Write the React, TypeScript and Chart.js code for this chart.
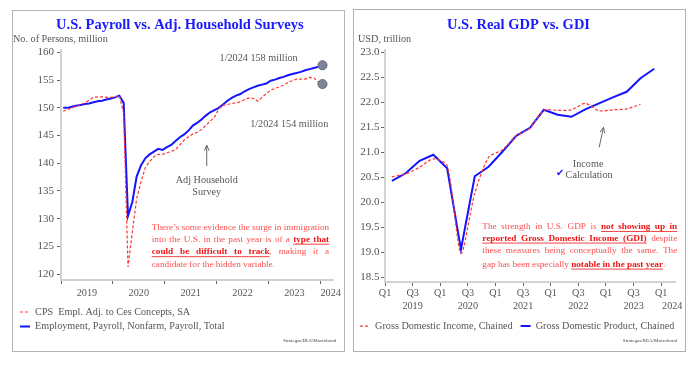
import React, { useEffect, useRef } from 'react';
import { Chart, registerables } from 'chart.js';

Chart.register(...registerables);

const SERIF = '"Liberation Serif", "Times New Roman", Times, serif';
const BLUE = '#1414ff';
const TITLE_BLUE = '#1a1aff';
const RED = '#ff3434';
const RED_TEXT = '#ff4f4f';
const RED_BOLD = '#f01414';
const GRAY_TEXT = '#555555';
const AXIS_LINE = '#d2d2d2';
const TICK_MARK = '#666666';
const DOT_FILL = '#7f8496';
const DOT_EDGE = '#626778';

// ---------- Left chart: monthly, Jan 2019 – Jan 2024 (million persons)
const months: string[] = Array.from({ length: 61 }, (_, i) => `${2019 + Math.floor(i / 12)}-${String((i % 12) + 1).padStart(2, '0')}`);

const payroll = [
  150.0, 150.0, 150.2, 150.4, 150.5, 150.7, 150.8, 151.0, 151.2, 151.3, 151.5, 151.7,
  151.9, 152.2, 150.9, 130.5, 133.0, 137.6, 139.6, 140.9, 141.6, 142.1, 142.6, 142.4,
  142.9, 143.3, 144.0, 144.7, 145.2, 145.9, 146.8, 147.3, 147.9, 148.6, 149.2, 149.6,
  150.0, 150.6, 151.3, 151.8, 152.2, 152.5, 153.0, 153.4, 153.7, 154.0, 154.2, 154.4,
  154.9, 155.1, 155.4, 155.6, 155.9, 156.1, 156.3, 156.5, 156.8, 157.0, 157.2, 157.4,
  157.7,
];

const householdAdj = [
  149.4, 149.7, 150.0, 150.3, 150.6, 150.9, 151.4, 151.9, 152.0, 152.0, 151.9, 151.9,
  152.0, 152.2, 149.0, 121.3, 127.6, 133.6, 136.6, 139.2, 140.3, 141.2, 141.6, 141.6,
  141.9, 142.1, 142.5, 143.3, 144.2, 144.8, 145.3, 145.6, 146.1, 146.8, 147.6, 148.3,
  149.8, 150.5, 150.6, 150.8, 150.9, 151.1, 151.5, 151.8, 151.7, 151.2, 151.9, 152.6,
  153.2, 153.5, 153.8, 154.1, 154.6, 154.9, 155.2, 155.2, 155.2, 155.5, 155.4, 154.7,
  154.3,
];

const payrollYearLabels = ['2019', '2020', '2021', '2022', '2023', '2024'];
const payrollTicks = [120, 125, 130, 135, 140, 145, 150, 155, 160];

// ---------- Right chart: quarterly real GDP / GDI (USD trillion)
const gdpQuarters = [
  '2019Q1', '2019Q2', '2019Q3', '2019Q4', '2020Q1', '2020Q2', '2020Q3', '2020Q4',
  '2021Q1', '2021Q2', '2021Q3', '2021Q4', '2022Q1', '2022Q2', '2022Q3', '2022Q4',
  '2023Q1', '2023Q2', '2023Q3', '2023Q4',
];
const realGDP = [20.43, 20.58, 20.83, 20.95, 20.68, 19.06, 20.52, 20.71, 21.01, 21.33, 21.49, 21.85, 21.75, 21.71, 21.86, 21.98, 22.1, 22.21, 22.48, 22.67];
const realGDI = [20.51, 20.57, 20.7, 20.87, 20.74, 18.98, 20.18, 20.9, 21.05, 21.33, 21.48, 21.84, 21.84, 21.85, 21.98, 21.83, 21.85, 21.87, 21.96];

const quarterTickLabels = ['Q1', 'Q3', 'Q1', 'Q3', 'Q1', 'Q3', 'Q1', 'Q3', 'Q1', 'Q3', 'Q1'];
const gdpYearLabels = ['2019', '2020', '2021', '2022', '2023', '2024'];
const gdpTicks = [18.5, 19.0, 19.5, 20.0, 20.5, 21.0, 21.5, 22.0, 22.5, 23.0];

type Seg = { t: string; b?: boolean };
const payrollNote: Seg[][] = [
  [{ t: 'There\u2019s some evidence the surge in immigration' }],
  [{ t: 'into the U.S. in the past year is of a ' }, { t: 'type that', b: true }],
  [{ t: 'could be difficult to track', b: true }, { t: ', making it a' }],
  [{ t: 'candidate for the hidden variable.' }],
];
const gdpNote: Seg[][] = [
  [{ t: 'The strength in U.S. GDP is ' }, { t: 'not showing up in', b: true }],
  [{ t: 'reported Gross Domestic Income (GDI)', b: true }, { t: ' despite' }],
  [{ t: 'these measures being conceptually the same. The' }],
  [{ t: 'gap has been especially ' }, { t: 'notable in the past year', b: true }, { t: '.' }],
];

// ---------- helpers
function drawArrow(ctx: CanvasRenderingContext2D, x1: number, y1: number, x2: number, y2: number) {
  ctx.save();
  ctx.strokeStyle = '#666';
  ctx.lineWidth = 1;
  ctx.beginPath();
  ctx.moveTo(x1, y1);
  ctx.lineTo(x2, y2);
  const a = Math.atan2(y2 - y1, x2 - x1);
  const L = 6;
  ctx.moveTo(x2 - L * Math.cos(a - 0.4), y2 - L * Math.sin(a - 0.4));
  ctx.lineTo(x2, y2);
  ctx.lineTo(x2 - L * Math.cos(a + 0.4), y2 - L * Math.sin(a + 0.4));
  ctx.stroke();
  ctx.restore();
}

function drawJustified(ctx: CanvasRenderingContext2D, lines: Seg[][], x0: number, x1: number, ys: number[], size: number) {
  const fontN = `${size}px ${SERIF}`;
  const fontB = `bold ${size}px ${SERIF}`;
  ctx.save();
  ctx.textAlign = 'left';
  ctx.textBaseline = 'middle';
  lines.forEach((line, li) => {
    const words: Seg[][] = [];
    let cur: Seg[] = [];
    line.forEach((seg) => {
      seg.t.split(' ').forEach((p, k) => {
        if (k > 0 && cur.length) {
          words.push(cur);
          cur = [];
        }
        if (p) cur.push({ t: p, b: !!seg.b });
      });
    });
    if (cur.length) words.push(cur);
    const widths = words.map((w) =>
      w.map((pc) => {
        ctx.font = pc.b ? fontB : fontN;
        return ctx.measureText(pc.t).width;
      })
    );
    const total = widths.reduce((a, w) => a + w.reduce((s, v) => s + v, 0), 0);
    ctx.font = fontN;
    const space = ctx.measureText(' ').width;
    const justify = li < lines.length - 1 && words.length > 1;
    const gap = justify ? (x1 - x0 - total) / (words.length - 1) : space;
    let x = x0;
    const y = ys[li];
    const uy = y + size * 0.52;
    words.forEach((w, wi) => {
      w.forEach((pc, pi) => {
        ctx.font = pc.b ? fontB : fontN;
        ctx.fillStyle = pc.b ? RED_BOLD : RED_TEXT;
        ctx.fillText(pc.t, x, y);
        if (pc.b) {
          ctx.strokeStyle = RED_BOLD;
          ctx.lineWidth = 0.8;
          ctx.beginPath();
          ctx.moveTo(x, uy);
          ctx.lineTo(x + widths[wi][pi], uy);
          ctx.stroke();
        }
        x += widths[wi][pi];
      });
      if (wi < words.length - 1) {
        if (w[w.length - 1].b && words[wi + 1][0].b) {
          ctx.strokeStyle = RED_BOLD;
          ctx.lineWidth = 0.8;
          ctx.beginPath();
          ctx.moveTo(x, uy);
          ctx.lineTo(x + gap, uy);
          ctx.stroke();
        }
        x += gap;
      }
    });
  });
  ctx.restore();
}

function legendLabels(chart: any) {
  return chart.data.datasets.map((ds: any, i: number) => ({
    text: ds.label,
    fillStyle: ds.borderColor,
    strokeStyle: ds.borderColor,
    lineWidth: ds.borderWidth,
    lineDash: ds.borderDash || [],
    pointStyle: 'line',
    fontColor: GRAY_TEXT,
    hidden: false,
    datasetIndex: i,
  }));
}

const padRightAxis = {
  position: 'right',
  display: true,
  ticks: { display: false },
  grid: { display: false, drawTicks: false },
  border: { display: false },
  afterFit: (s: any) => {
    s.width = 10;
  },
};

const titleOpts = (text: string) => ({
  display: true,
  text,
  color: TITLE_BLUE,
  font: { family: SERIF, size: 14.5, weight: 'bold' },
  padding: { top: 5.3, bottom: 16.3 },
});

// ---------- left chart config
function payrollConfig(): any {
  const xOf = (label: string) => {
    const [y, m] = label.split('-').map(Number);
    return y + (m - 0.5) / 12;
  };
  const last = payroll.length - 1;
  const endRadius = (c: any) => (c.dataIndex === last ? 4.5 : 0);
  const xMin = 2019;
  const xMax = 2024.25;

  const plugin = {
    id: 'payrollAnnotations',
    afterDraw(chart: any) {
      const { ctx, chartArea } = chart;
      const X = (v: number) => chart.scales.x.getPixelForValue(v);
      const Y = (v: number) => chart.scales.y.getPixelForValue(v);
      ctx.save();
      ctx.textBaseline = 'middle';
      ctx.fillStyle = GRAY_TEXT;
      ctx.font = `10.2px ${SERIF}`;
      ctx.textAlign = 'left';
      ctx.fillText('No. of Persons, million', 0, chartArea.top - 11);
      ctx.textAlign = 'center';
      ctx.fillText('1/2024 158 million', X(2022.81), Y(159.0));
      ctx.fillText('1/2024 154 million', X(2023.4), Y(147.06));
      ctx.fillText('Adj Household', X(2021.81), Y(136.95));
      ctx.fillText('Survey', X(2021.81), Y(134.78));
      drawArrow(ctx, X(2021.81), Y(139.5), X(2021.81), Y(143.27));
      drawJustified(ctx, payrollNote, X(2020.75), X(2024.17), [Y(128.47), Y(126.25), Y(124.0), Y(121.7)], 9.2);
      ctx.font = `5px ${SERIF}`;
      ctx.textAlign = 'right';
      ctx.fillStyle = '#444';
      ctx.fillText('Strategas/BLS/Macrobond', chartArea.right + 3, chart.height - 10);
      ctx.restore();
    },
  };

  return {
    type: 'line',
    data: {
      datasets: [
        {
          label: 'CPS  Empl. Adj. to Ces Concepts, SA',
          data: householdAdj.map((v, i) => ({ x: xOf(months[i]), y: v })),
          borderColor: RED,
          borderWidth: 1.2,
          borderDash: [3, 2],
          pointRadius: endRadius,
          pointBackgroundColor: DOT_FILL,
          pointBorderColor: DOT_EDGE,
          pointBorderWidth: 1,
          fill: false,
          tension: 0,
        },
        {
          label: 'Employment, Payroll, Nonfarm, Payroll, Total',
          data: payroll.map((v, i) => ({ x: xOf(months[i]), y: v })),
          borderColor: BLUE,
          borderWidth: 2,
          pointRadius: endRadius,
          pointBackgroundColor: DOT_FILL,
          pointBorderColor: DOT_EDGE,
          pointBorderWidth: 1,
          fill: false,
          tension: 0,
        },
      ],
    },
    options: {
      responsive: false,
      animation: false,
      events: [],
      layout: { padding: { left: 2.7, right: 0, top: 0, bottom: 9.4 } },
      plugins: {
        title: titleOpts('U.S. Payroll vs. Adj. Household Surveys'),
        legend: {
          position: 'bottom',
          align: 'start',
          labels: {
            usePointStyle: true,
            pointStyle: 'line',
            pointStyleWidth: 10,
            padding: 4.3,
            color: GRAY_TEXT,
            font: { family: SERIF, size: 10.2 },
            generateLabels: legendLabels,
          },
        },
        tooltip: { enabled: false },
      },
      scales: {
        x: {
          type: 'linear',
          position: 'bottom',
          weight: 0,
          min: xMin,
          max: xMax,
          afterBuildTicks: (s: any) => {
            s.ticks = payrollYearLabels.map((l) => ({ value: Number(l) }));
          },
          ticks: { display: false },
          grid: { drawOnChartArea: false, drawTicks: true, tickLength: 4, color: TICK_MARK },
          border: { color: AXIS_LINE, width: 2 },
          afterFit: (s: any) => {
            s.height = 4;
          },
        },
        x2: {
          type: 'linear',
          position: 'bottom',
          weight: 1,
          min: xMin,
          max: xMax,
          afterBuildTicks: (s: any) => {
            s.ticks = payrollYearLabels.map((l, i) => ({ value: i < payrollYearLabels.length - 1 ? Number(l) + 0.5 : Number(l) + 0.2 }));
          },
          ticks: {
            callback: (_v: any, i: number) => payrollYearLabels[i],
            color: GRAY_TEXT,
            font: { family: SERIF, size: 10.2 },
            padding: 3,
            autoSkip: false,
            maxRotation: 0,
          },
          grid: { display: false, drawTicks: false, tickLength: 0 },
          border: { display: false },
          afterFit: (s: any) => {
            s.height = 18.6;
          },
        },
        y: {
          type: 'linear',
          min: 118.92,
          max: 160.45,
          afterBuildTicks: (s: any) => {
            s.ticks = payrollTicks.map((v) => ({ value: v }));
          },
          ticks: { color: GRAY_TEXT, font: { family: SERIF, size: 11 }, padding: 3 },
          grid: { drawOnChartArea: false, drawTicks: true, tickLength: 4, color: TICK_MARK },
          border: { color: AXIS_LINE, width: 2 },
          afterFit: (s: any) => {
            s.width = 45.3;
          },
        },
        yr: padRightAxis,
      },
    },
    plugins: [plugin],
  };
}

// ---------- right chart config
function gdpConfig(): any {
  const xOf = (q: string) => {
    const y = Number(q.slice(0, 4));
    const n = Number(q.slice(5));
    return (y - 2019) * 4 + (n - 1) + 0.5;
  };
  const xMin = 0;
  const xMax = 21;

  const plugin = {
    id: 'gdpAnnotations',
    afterDraw(chart: any) {
      const { ctx, chartArea } = chart;
      const X = (v: number) => chart.scales.x.getPixelForValue(v);
      const Y = (v: number) => chart.scales.y.getPixelForValue(v);
      ctx.save();
      ctx.textBaseline = 'middle';
      ctx.fillStyle = GRAY_TEXT;
      ctx.font = `10.2px ${SERIF}`;
      ctx.textAlign = 'left';
      ctx.fillText('USD, trillion', 6, chartArea.top - 11);
      ctx.textAlign = 'center';
      ctx.fillText('Income', X(14.71), Y(20.75));
      ctx.fillText('Calculation', X(14.78), Y(20.53));
      ctx.fillStyle = BLUE;
      ctx.font = '10px "DejaVu Sans", sans-serif';
      ctx.fillText('\u2714', X(12.68), Y(20.57));
      drawArrow(ctx, X(15.51), Y(21.1), X(15.82), Y(21.5));
      drawJustified(ctx, gdpNote, X(7.05), X(21.16), [Y(19.512), Y(19.28), Y(19.026), Y(18.76)], 9.2);
      ctx.font = `5px ${SERIF}`;
      ctx.textAlign = 'right';
      ctx.fillStyle = '#444';
      ctx.fillText('Strategas/BEA/Macrobond', chartArea.right + 2, chart.height - 10);
      ctx.restore();
    },
  };

  return {
    type: 'line',
    data: {
      datasets: [
        {
          label: 'Gross Domestic Income, Chained',
          data: realGDI.map((v, i) => ({ x: xOf(gdpQuarters[i]), y: v })),
          borderColor: RED,
          borderWidth: 1.2,
          borderDash: [3, 2],
          pointRadius: 0,
          fill: false,
          tension: 0.25,
        },
        {
          label: 'Gross Domestic Product, Chained',
          data: realGDP.map((v, i) => ({ x: xOf(gdpQuarters[i]), y: v })),
          borderColor: BLUE,
          borderWidth: 2,
          pointRadius: 0,
          fill: false,
          tension: 0,
        },
      ],
    },
    options: {
      responsive: false,
      animation: false,
      events: [],
      layout: { padding: { left: 0, right: 0, top: 0, bottom: 9.8 } },
      plugins: {
        title: titleOpts('U.S. Real GDP vs. GDI'),
        legend: {
          position: 'bottom',
          align: 'start',
          labels: {
            usePointStyle: true,
            pointStyle: 'line',
            pointStyleWidth: 10,
            padding: 8,
            color: GRAY_TEXT,
            font: { family: SERIF, size: 10.2 },
            generateLabels: legendLabels,
          },
        },
        tooltip: { enabled: false },
      },
      scales: {
        x: {
          type: 'linear',
          position: 'bottom',
          weight: 0,
          min: xMin,
          max: xMax,
          afterBuildTicks: (s: any) => {
            s.ticks = quarterTickLabels.map((_l, i) => ({ value: i * 2 }));
          },
          ticks: {
            callback: (_v: any, i: number) => quarterTickLabels[i],
            color: GRAY_TEXT,
            font: { family: SERIF, size: 10.2 },
            padding: 1,
            autoSkip: false,
            maxRotation: 0,
          },
          grid: { drawOnChartArea: false, drawTicks: true, tickLength: 4, color: TICK_MARK },
          border: { color: AXIS_LINE, width: 2 },
          afterFit: (s: any) => {
            s.height = 17;
          },
        },
        x2: {
          type: 'linear',
          position: 'bottom',
          weight: 1,
          min: xMin,
          max: xMax,
          afterBuildTicks: (s: any) => {
            s.ticks = gdpYearLabels.map((_l, i) => ({ value: i < gdpYearLabels.length - 1 ? 2 + i * 4 : 20.8 }));
          },
          ticks: {
            callback: (_v: any, i: number) => gdpYearLabels[i],
            color: GRAY_TEXT,
            font: { family: SERIF, size: 10.2 },
            padding: 1.7,
            autoSkip: false,
            maxRotation: 0,
          },
          grid: { display: false, drawTicks: false, tickLength: 0 },
          border: { display: false },
          afterFit: (s: any) => {
            s.height = 14;
          },
        },
        y: {
          type: 'linear',
          min: 18.406,
          max: 23.046,
          afterBuildTicks: (s: any) => {
            s.ticks = gdpTicks.map((v) => ({ value: v }));
          },
          ticks: {
            color: GRAY_TEXT,
            font: { family: SERIF, size: 11 },
            padding: 1.5,
            callback: (v: any) => Number(v).toFixed(1),
          },
          grid: { drawOnChartArea: false, drawTicks: true, tickLength: 4, color: TICK_MARK },
          border: { color: AXIS_LINE, width: 2 },
          afterFit: (s: any) => {
            s.width = 33;
          },
        },
        yr: padRightAxis,
      },
    },
    plugins: [plugin],
  };
}

function ChartCanvas({ make, left, top, width, height }: { make: () => any; left: number; top: number; width: number; height: number }) {
  const ref = useRef<HTMLCanvasElement>(null);
  useEffect(() => {
    const chart = new Chart(ref.current as HTMLCanvasElement, make());
    return () => chart.destroy();
  }, []);
  return (
    <canvas
      ref={ref}
      width={width}
      height={height}
      style={{ position: 'absolute', left, top, width, height, display: 'block' }}
    />
  );
}

export default function App() {
  return (
    <div style={{ position: 'fixed', left: 0, top: 0, width: 700, height: 367, background: '#fff', overflow: 'hidden' }}>
      <ChartCanvas make={payrollConfig} left={13} top={11} width={331} height={340} />
      <ChartCanvas make={gdpConfig} left={352} top={11} width={333} height={340} />
      <div style={{ position: 'absolute', left: 12, top: 10, width: 333, height: 342, border: '1px solid #b4b4b4', boxSizing: 'border-box', pointerEvents: 'none' }} />
      <div style={{ position: 'absolute', left: 353, top: 9, width: 333, height: 343, border: '1.5px solid #b0b0b0', boxSizing: 'border-box', pointerEvents: 'none' }} />
    </div>
  );
}
